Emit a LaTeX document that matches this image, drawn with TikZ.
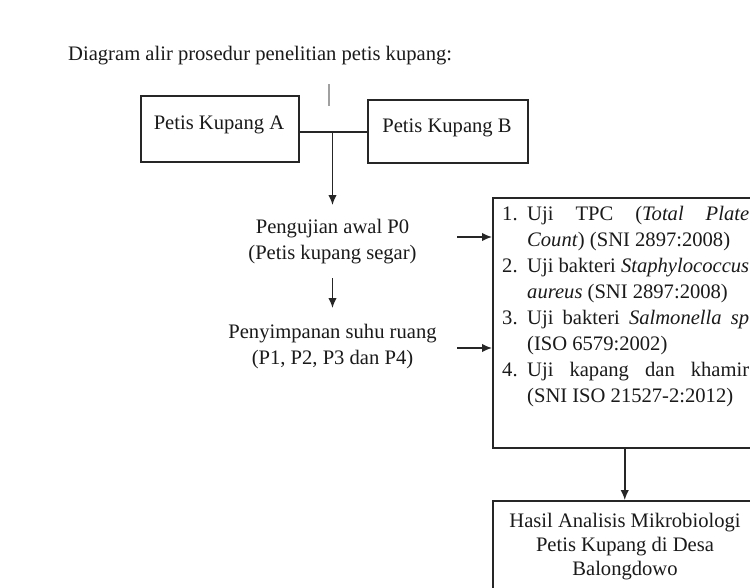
\documentclass[tikz,border=0pt]{standalone}
\usepackage{fontspec}
\setmainfont{Liberation Serif}
\usetikzlibrary{arrows.meta}
\definecolor{ink}{HTML}{1A1A1A}
\definecolor{linec}{HTML}{262626}
\definecolor{tickc}{HTML}{A0A0A0}
\begin{document}
\begin{tikzpicture}[x=1pt,y=-1pt,
  txt/.style={font=\fontsize{20.6}{26}\selectfont, text=ink, inner sep=0pt},
  boxshape/.style={draw=linec, line width=1.5pt, inner sep=0pt},
  ln/.style={draw=linec, line width=1.5pt},
  arr/.style={draw=linec, line width=1.5pt, -{Latex[length=10pt,width=8.5pt]}},
  tickline/.style={draw=tickc, line width=1.2pt}]
\clip (0,0) rectangle (750,587);
\fill[white] (0,0) rectangle (750,587);

% title
\node[txt, anchor=base west] (title) at (68,60) {Diagram alir prosedur penelitian petis kupang:};

% top boxes
\node[boxshape, anchor=north west, minimum width=158pt, minimum height=66pt] (A) at (140,95) {};
\node[txt, anchor=base] (Atext) at (219,129) {Petis Kupang A};
\node[boxshape, anchor=north west, minimum width=160pt, minimum height=63pt] (B) at (367,99) {};
\node[txt, anchor=base] (Btext) at (447,132) {Petis Kupang B};

% small tick
\coordinate (t1) at (329,84);
\coordinate (t2) at (329,106);
\draw[tickline] (t1) -- (t2);

% junction
\coordinate (j) at (332.5,132);
\draw[ln] (A.east |- j) -- (B.west |- j);

% left column
\node[txt, align=center, anchor=north, inner ysep=14pt] (p0) at (332.5,205) {Pengujian awal P0\\(Petis kupang segar)};
\node[txt, align=center, anchor=north, inner ysep=16pt] (p1) at (332.5,308) {Penyimpanan suhu ruang\\(P1, P2, P3 dan P4)};
\draw[arr] (j) -- (p0.north);
\draw[arr] (p0.south) -- (p1.north);

% test box
\node[boxshape, anchor=north west, minimum width=264pt, minimum height=250pt] (tests) at (492,197) {};
\node[txt, anchor=base west] (tlist) at (502,220) {\begin{minipage}[t]{248pt}\fontsize{20.6}{26}\selectfont
\makebox[25pt][l]{1.}\makebox[222pt][s]{Uji TPC (\textit{Total Plate}}\\
\hspace*{25pt}\textit{Count}) (SNI 2897:2008)\\
\makebox[25pt][l]{2.}\makebox[222pt][s]{Uji bakteri \textit{Staphylococcus}}\\
\hspace*{25pt}\textit{aureus} (SNI 2897:2008)\\
\makebox[25pt][l]{3.}\makebox[222pt][s]{Uji bakteri \textit{Salmonella sp}}\\
\hspace*{25pt}(ISO 6579:2002)\\
\makebox[25pt][l]{4.}\makebox[222pt][s]{Uji kapang dan khamir}\\
\hspace*{25pt}(SNI ISO 21527-2:2012)
\end{minipage}};

\coordinate (h1) at (457,237);
\coordinate (h2) at (457,348);
\draw[arr] (h1) -- (h1 -| tests.west);
\draw[arr] (h2) -- (h2 -| tests.west);

% result box
\node[boxshape, anchor=north west, minimum width=264pt, minimum height=120pt] (res) at (492,500) {};
\node[txt, align=center, anchor=north, font=\fontsize{20.6}{24}\selectfont] (restext) at (625,513) {Hasil Analisis Mikrobiologi\\Petis Kupang di Desa\\Balongdowo};
\draw[arr] (tests.south) -- (res.north);
\end{tikzpicture}
\end{document}
